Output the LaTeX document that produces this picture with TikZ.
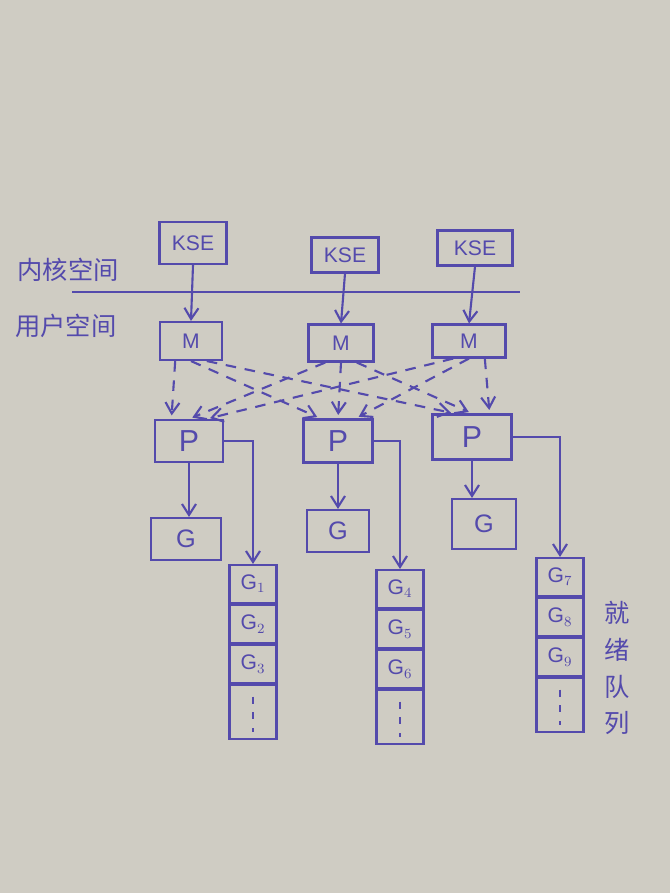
\documentclass[tikz,border=0pt]{standalone}
\usepackage{fontspec}
\setmainfont{Liberation Sans}
\newfontfamily\cjk{Noto Sans CJK SC}
\usetikzlibrary{arrows.meta}
\definecolor{ink}{RGB}{84,74,172}
\definecolor{paper}{RGB}{207,204,195}
\tikzset{
    box/.style = {draw = ink, line width = 1.2pt, text = ink, inner sep = 0pt},
    cell/.style = {draw = ink, line width = 1.2pt, text = ink, inner sep = 0pt,
        minimum width = 0.94cm, minimum height = 0.76cm, font = \large},
    link/.style = {ink, line width = 1.2pt, -{Straight Barb[length = 2.2mm, width = 2.8mm]}},
    swap/.style = {link, dash pattern = on 6pt off 5pt, shorten > = 2pt},
    more/.style = {ink, line width = 1.2pt, dash pattern = on 4pt off 5pt},
    tag/.style = {text = ink, font = \cjk\Large}
}
\begin{document}
\begin{tikzpicture}[x = 0.02cm, y = -0.02cm]
    \fill[paper] (0,0) rectangle (670,893);
    % kernel space
    \node[box, font = \large, minimum width = 1.34cm, minimum height = 0.84cm] (kse1) at (193,243) {KSE};
    \node[box, font = \large, minimum width = 1.34cm, minimum height = 0.7cm] (kse2) at (345,255) {KSE};
    \node[box, font = \large, minimum width = 1.5cm, minimum height = 0.7cm] (kse3) at (475,248) {KSE};
    \node[tag] (kernel) at (68,270) {内核空间};
    \coordinate (lineL) at (72,292);
    \coordinate (lineR) at (520,292);
    \draw[ink, line width = 1.2pt] (lineL) -- (lineR);
    % user space
    \node[tag] (user) at (66,326) {用户空间};
    \node[box, font = \large, minimum width = 1.24cm, minimum height = 0.76cm] (m1) at (191,341) {M};
    \node[box, font = \large, minimum width = 1.3cm, minimum height = 0.74cm] (m2) at (341,343) {M};
    \node[box, font = \large, minimum width = 1.46cm, minimum height = 0.66cm] (m3) at (469,341) {M};
    \node[box, font = \LARGE, minimum width = 1.36cm, minimum height = 0.84cm] (p1) at (189,441) {P};
    \node[box, font = \LARGE, minimum width = 1.38cm, minimum height = 0.86cm] (p2) at (338,441) {P};
    \node[box, font = \LARGE, minimum width = 1.58cm, minimum height = 0.9cm] (p3) at (472,437) {P};
    \node[box, font = \Large, minimum width = 1.4cm, minimum height = 0.84cm] (g1) at (186,539) {G};
    \node[box, font = \Large, minimum width = 1.24cm, minimum height = 0.84cm] (g2) at (338,531) {G};
    \node[box, font = \Large, minimum width = 1.28cm, minimum height = 1.0cm] (g3) at (484,524) {G};
    % run queues
    \node[cell] (q1a) at (253,584) {G$_1$};
    \node[cell, anchor = north] (q1b) at (q1a.south) {G$_2$};
    \node[cell, anchor = north] (q1c) at (q1b.south) {G$_3$};
    \node[cell, anchor = north, minimum height = 1.08cm] (q1d) at (q1c.south) {};
    \node[cell] (q2a) at (400,589) {G$_4$};
    \node[cell, anchor = north] (q2b) at (q2a.south) {G$_5$};
    \node[cell, anchor = north] (q2c) at (q2b.south) {G$_6$};
    \node[cell, anchor = north, minimum height = 1.08cm] (q2d) at (q2c.south) {};
    \node[cell] (q3a) at (560,577) {G$_7$};
    \node[cell, anchor = north] (q3b) at (q3a.south) {G$_8$};
    \node[cell, anchor = north] (q3c) at (q3b.south) {G$_9$};
    \node[cell, anchor = north, minimum height = 1.08cm] (q3d) at (q3c.south) {};
    \node[tag, align = center] (ready) at (617,668) {就\\[3pt]绪\\[3pt]队\\[3pt]列};
    % connectors
    \foreach \k in {1,2,3} {
        \draw[link] (kse\k.south) -- (m\k.north);
        \draw[link] (p\k.south) -- (p\k.south |- g\k.north);
        \draw[link] (p\k.east) -| (q\k a.north);
        \draw[more] ([yshift = -7pt]q\k d.north) -- ([yshift = 5pt]q\k d.south);
    }
    \foreach \i in {1,2,3}
        \foreach \j in {1,2,3}
            \draw[swap] ([xshift = {(\j-2)*9pt}]m\i.south) -- ([xshift = {(\i-2)*10pt}]p\j.north);
\end{tikzpicture}
\end{document}
